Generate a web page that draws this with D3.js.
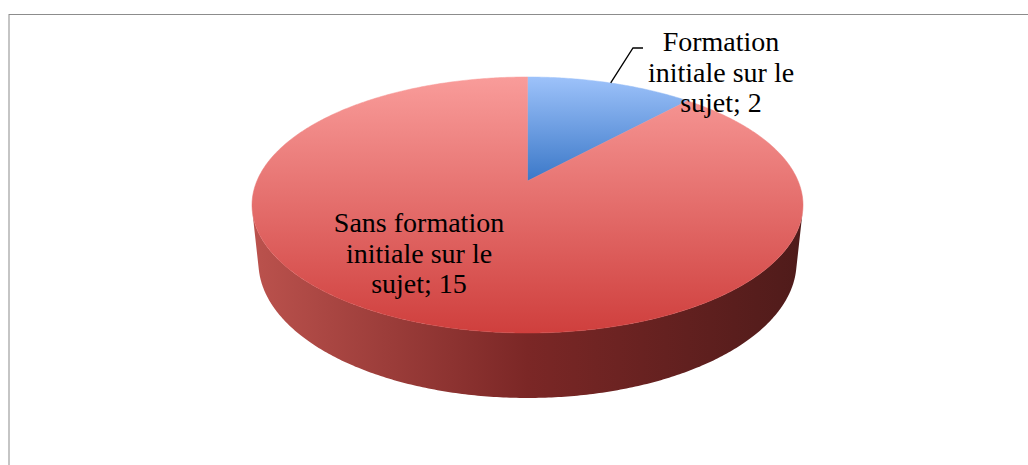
<!DOCTYPE html>
<html>
<head>
<meta charset="utf-8">
<script src="https://cdn.jsdelivr.net/npm/d3@7"></script>
<style>
  html, body { margin: 0; padding: 0; background: #fff; }
  svg { display: block; }
  .lbl { font-family: "Liberation Serif", "Times New Roman", serif; font-size: 28px; fill: #000; }
</style>
</head>
<body>
<svg id="chart" width="1028" height="465"></svg>
<script>
// data
const categories = ["Formation initiale sur le sujet", "Sans formation initiale sur le sujet"];
const values = [2, 15];
const labelLines = [["Formation", "initiale sur le", "sujet"], ["Sans formation", "initiale sur le", "sujet"]];
const topColors = [["#9dc2fa", "#3b78c8"], ["#f99c9a", "#cf3f3d"]];
const sideColors = [["#5b84c0", "#2a4f85", "#1c355c"], ["#bb524d", "#7b2726", "#4f1b1a"]];

// camera for the 3d pie (perspective, tilted)
const cam = { cx: 527.5, cy: 181, f: 1284, D: 4.745, tilt: 27.16 * Math.PI / 180, depth: 0.24 };
const sinT = Math.sin(cam.tilt);
const cosT = Math.cos(cam.tilt);

// label placement
const labelPos = [{ x: 721, y: 51 }, { x: 419, y: 232 }];
const lineH = 30.5;
const leaderEnd = [[633, 48], [643, 48]];

const svg = d3.select("#chart");

svg.append("rect")
  .attr("x", 9)
  .attr("y", 14.5)
  .attr("width", 1040)
  .attr("height", 480)
  .attr("fill", "#fff")
  .attr("stroke", "#8c8c8c")
  .attr("stroke-width", 1);

function project(a, r, h) {
  // a: angle from 12 o'clock clockwise, r: radius, h: height (0 top, negative down)
  const x = r * Math.sin(a);
  const z = -r * Math.cos(a);
  const d = cam.D - (h * sinT + z * cosT);
  const up = h * cosT - z * sinT;
  return [cam.cx + cam.f * x / d, cam.cy - cam.f * up / d];
}

function arcPoints(a0, a1, h) {
  const n = Math.max(2, Math.ceil(Math.abs(a1 - a0) / 0.01));
  const pts = [];
  for (let i = 0; i <= n; i++) {
    pts.push(project(a0 + (a1 - a0) * i / n, 1, h));
  }
  return pts;
}

const pie = d3.pie().sort(null).value(function (d) { return d; });
const arcs = pie(values);

const defs = svg.append("defs");

// vertical extent of the top face, for gradients
const topY = d3.scaleLinear().domain([0, 1]).range([project(0, 1, 0)[1], project(Math.PI, 1, 0)[1]]);
const leftX = project(-Math.PI / 2, 1, 0)[0] - 4;
const rightX = project(Math.PI / 2, 1, 0)[0] + 4;

arcs.forEach(function (d, i) {
  // top gradient over the slice's own vertical extent
  const ys = arcPoints(d.startAngle, d.endAngle, 0).map(function (p) { return p[1]; }).concat([cam.cy]);
  const g = defs.append("linearGradient")
    .attr("id", "top" + i)
    .attr("gradientUnits", "userSpaceOnUse")
    .attr("x1", 0).attr("x2", 0)
    .attr("y1", d3.min(ys)).attr("y2", d3.max(ys));
  g.append("stop").attr("offset", 0).attr("stop-color", topColors[i][0]);
  g.append("stop").attr("offset", 1).attr("stop-color", topColors[i][1]);

  const s = defs.append("linearGradient")
    .attr("id", "side" + i)
    .attr("gradientUnits", "userSpaceOnUse")
    .attr("x1", leftX).attr("x2", rightX)
    .attr("y1", 0).attr("y2", 0);
  s.append("stop").attr("offset", 0).attr("stop-color", sideColors[i][0]);
  s.append("stop").attr("offset", 0.5).attr("stop-color", sideColors[i][1]);
  s.append("stop").attr("offset", 1).attr("stop-color", sideColors[i][2]);
});

// visible part of the outer wall
const aVis0 = Math.acos(-1 / (cam.D * cosT));
const aVis1 = 2 * Math.PI - aVis0;
const line = d3.line();

const wallG = svg.append("g");
arcs.forEach(function (d, i) {
  const a0 = Math.max(d.startAngle, aVis0);
  const a1 = Math.min(d.endAngle, aVis1);
  if (a1 <= a0) return;
  const pts = arcPoints(a0, a1, 0).concat(arcPoints(a1, a0, -cam.depth));
  wallG.append("path")
    .attr("d", line(pts) + "Z")
    .attr("fill", "url(#side" + i + ")");
});

const topG = svg.append("g");
arcs.forEach(function (d, i) {
  const pts = [project(0, 0, 0)].concat(arcPoints(d.startAngle, d.endAngle, 0));
  topG.append("path")
    .attr("d", line(pts) + "Z")
    .attr("fill", "url(#top" + i + ")")
    .attr("stroke", "url(#top" + i + ")")
    .attr("stroke-width", 0.5);
});

// leader line for the small slice
const mid0 = (arcs[0].startAngle + arcs[0].endAngle) / 2;
svg.append("path")
  .attr("d", line([project(mid0, 1, 0)].concat(leaderEnd)))
  .attr("fill", "none")
  .attr("stroke", "#000")
  .attr("stroke-width", 1.3);

// labels
arcs.forEach(function (d, i) {
  const lines = labelLines[i].slice();
  lines[lines.length - 1] = lines[lines.length - 1] + "; " + values[i];
  const t = svg.append("text")
    .attr("class", "lbl")
    .attr("text-anchor", "middle");
  lines.forEach(function (s, k) {
    t.append("tspan")
      .attr("x", labelPos[i].x)
      .attr("y", labelPos[i].y + k * lineH)
      .text(s);
  });
});
</script>
</body>
</html>
